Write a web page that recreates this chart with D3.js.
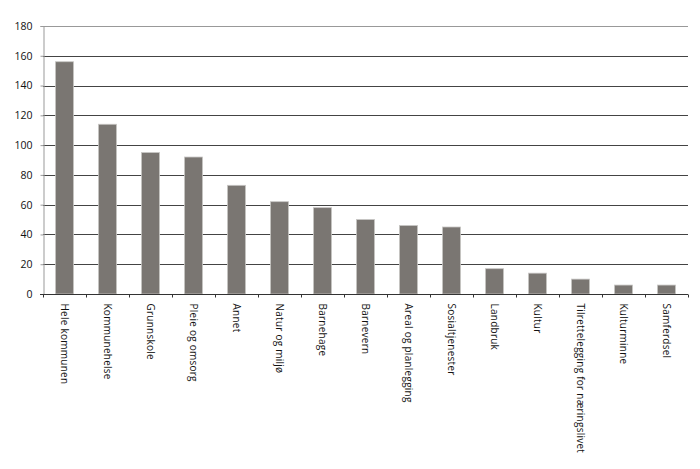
<!DOCTYPE html>
<html>
<head>
<meta charset="utf-8" />
<script src="https://d3js.org/d3.v7.min.js"></script>
<style>
  body { margin: 0; background: white; }
  text { font-family: "Open Sans", sans-serif; fill: #111; }
</style>
</head>
<body>
<svg id="chart"></svg>
<script>
var categories = ["Hele kommunen", "Kommunehelse", "Grunnskole", "Pleie og omsorg", "Annet",
  "Natur og miljø", "Barnehage", "Barnevern", "Areal og planlegging", "Sosialtjenester",
  "Landbruk", "Kultur", "Tilrettelegging for næringslivet", "Kulturminne", "Samferdsel"];
var values = [156, 114, 95, 92, 73, 62, 58, 50, 46, 45, 17, 14, 10, 6, 6];
var yTicks = [0, 20, 40, 60, 80, 100, 120, 140, 160, 180];

var width = 700, height = 469;
var margin = {top: 26, right: 12, bottom: 175, left: 43};

var svg = d3.select("#chart").attr("width", width).attr("height", height);

var x = d3.scaleBand()
  .domain(categories)
  .range([margin.left, width - margin.right])
  .paddingInner(0.58)
  .paddingOuter(0.29);

var y = d3.scaleLinear()
  .domain([0, 180])
  .range([height - margin.bottom, margin.top]);

// gridlines
svg.append("g").selectAll("line")
  .data(yTicks.filter(function(d){ return d > 0; }))
  .enter().append("line")
  .attr("x1", margin.left)
  .attr("x2", width - margin.right)
  .attr("y1", function(d){ return Math.round(y(d)) + 0.5; })
  .attr("y2", function(d){ return Math.round(y(d)) + 0.5; })
  .attr("stroke", function(d){ return d === 180 ? "#999" : "#444"; })
  .attr("stroke-width", 1);

// bars
svg.append("g").selectAll("rect")
  .data(values)
  .enter().append("rect")
  .attr("x", function(d, i){ return x(categories[i]); })
  .attr("width", x.bandwidth())
  .attr("y", function(d){ return y(d); })
  .attr("height", function(d){ return y(0) - y(d); })
  .attr("fill", "#7a7672")
  .attr("stroke", "#c8c6c4")
  .attr("stroke-width", 0.8);

// y axis
var yAxis = d3.axisLeft(y).tickValues(yTicks).tickSize(3).tickPadding(8);
var gy = svg.append("g")
  .attr("transform", "translate(" + (margin.left + 0.5) + ",0)")
  .call(yAxis);
gy.select(".domain").attr("stroke", "#999");
gy.selectAll(".tick line").attr("stroke", "#999");
gy.selectAll("text").style("font-size", "10.5px").attr("fill", "#111");

// x axis, ticks sit between categories
var step = x.step();
var gx = svg.append("g").attr("transform", "translate(0," + (Math.round(y(0)) + 0.5) + ")");
gx.append("line")
  .attr("x1", margin.left - 3).attr("x2", width - margin.right)
  .attr("stroke", "#333");
gx.selectAll(".btick")
  .data(d3.range(categories.length + 1))
  .enter().append("line")
  .attr("x1", function(i){ return margin.left + 0.5 + i * step; })
  .attr("x2", function(i){ return margin.left + 0.5 + i * step; })
  .attr("y1", 0).attr("y2", 3)
  .attr("stroke", "#333");

gx.selectAll(".lab")
  .data(categories)
  .enter().append("text")
  .attr("transform", function(d){
    return "translate(" + Math.round(x(d) + x.bandwidth() / 2 - 4) + ",9) rotate(90)";
  })
  .attr("text-anchor", "start")
  .style("font-size", "10px")
  .style("letter-spacing", "0.25px")
  .text(function(d){ return d; });
</script>
</body>
</html>
